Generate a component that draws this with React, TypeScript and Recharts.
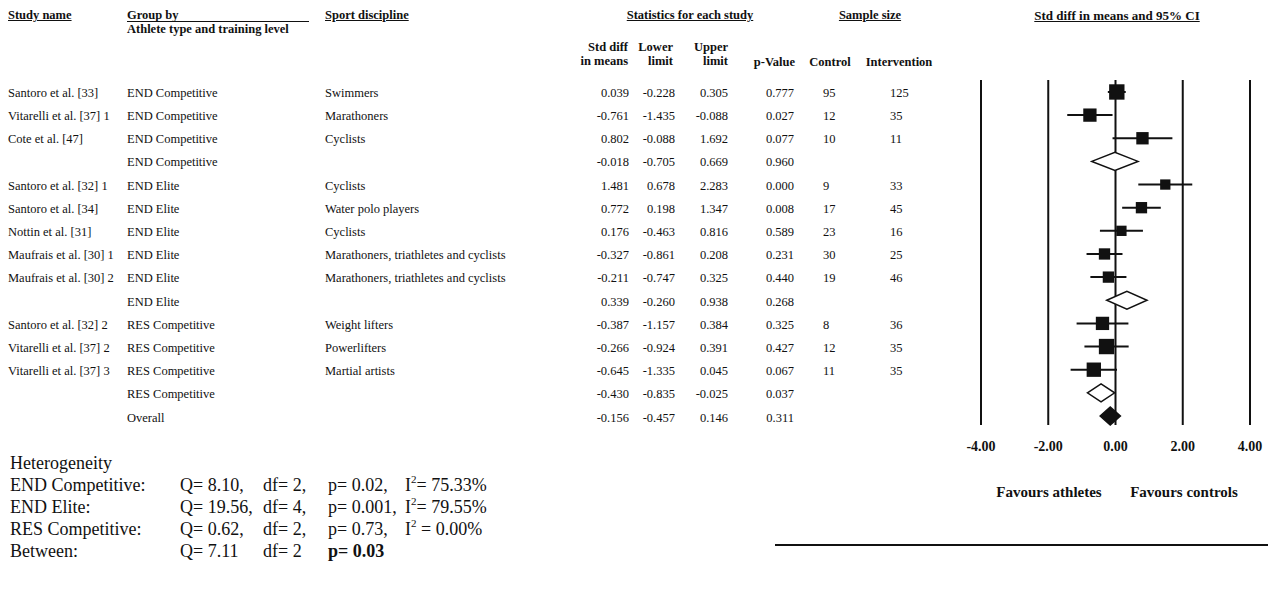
import React from 'react';
import { ScatterChart, Scatter, XAxis, YAxis, ReferenceLine, ErrorBar } from 'recharts';

// one entry per row of the forest plot, top to bottom; empty study name = subgroup / overall summary
const studyNames = [
  'Santoro et al. [33]',
  'Vitarelli et al. [37] 1',
  'Cote et al. [47]',
  '',
  'Santoro et al. [32] 1',
  'Santoro et al. [34]',
  'Nottin et al. [31]',
  'Maufrais et al. [30] 1',
  'Maufrais et al. [30] 2',
  '',
  'Santoro et al. [32] 2',
  'Vitarelli et al. [37] 2',
  'Vitarelli et al. [37] 3',
  '',
  '',
];
const groupNames = [
  'END Competitive', 'END Competitive', 'END Competitive', 'END Competitive',
  'END Elite', 'END Elite', 'END Elite', 'END Elite', 'END Elite', 'END Elite',
  'RES Competitive', 'RES Competitive', 'RES Competitive', 'RES Competitive',
  'Overall',
];
const sports = [
  'Swimmers', 'Marathoners', 'Cyclists', '',
  'Cyclists', 'Water polo players', 'Cyclists',
  'Marathoners, triathletes and cyclists', 'Marathoners, triathletes and cyclists', '',
  'Weight lifters', 'Powerlifters', 'Martial artists', '', '',
];
const stdDiff = [0.039, -0.761, 0.802, -0.018, 1.481, 0.772, 0.176, -0.327, -0.211, 0.339, -0.387, -0.266, -0.645, -0.43, -0.156];
const lowerLimit = [-0.228, -1.435, -0.088, -0.705, 0.678, 0.198, -0.463, -0.861, -0.747, -0.26, -1.157, -0.924, -1.335, -0.835, -0.457];
const upperLimit = [0.305, -0.088, 1.692, 0.669, 2.283, 1.347, 0.816, 0.208, 0.325, 0.938, 0.384, 0.391, 0.045, -0.025, 0.146];
const pValues = [0.777, 0.027, 0.077, 0.96, 0.0, 0.008, 0.589, 0.231, 0.44, 0.268, 0.325, 0.427, 0.067, 0.037, 0.311];
const controlN = [95, 12, 10, null, 9, 17, 23, 30, 19, null, 8, 12, 11, null, null];
const interventionN = [125, 35, 11, null, 33, 45, 16, 25, 46, null, 36, 35, 35, null, null];
// relative study weights (%), estimated from the square sizes
const weights = [10.7, 8, 6.9, 0, 4.8, 5.8, 4.8, 5.8, 5.8, 0, 8, 10.7, 9.3, 0, 0];
const xTicks = [-4, -2, 0, 2, 4];

const hetLabels = ['END Competitive:', 'END Elite:', 'RES Competitive:', 'Between:'];
const hetQ = ['8.10,', '19.56,', '0.62,', '7.11'];
const hetDf = ['2,', '4,', '2,', '2'];
const hetP = ['0.02,', '0.001,', '0.73,', '0.03'];
const hetI2 = ['= 75.33%', '= 79.55%', ' = 0.00%', ''];

const W = 1268;
const H = 590;
const FONT = '"Liberation Serif", "Times New Roman", serif';
const INK = '#111';
const ROW0 = 92;
const ROW_H = 23.2;
const PLOT_TOP = 80;
const PLOT_BOTTOM = 425;
const CHART_LEFT = 940;
const X_AXIS_H = 30;

const rowY = (i: number) => ROW0 + ROW_H * i;

const studyData = stdDiff
  .map((v, i) => ({ x: v, y: i, ci: [v - lowerLimit[i], upperLimit[i] - v], w: weights[i], summary: studyNames[i] === '' }))
  .filter((d) => !d.summary);

const diamondH = 0.39;
const diamonds = stdDiff
  .map((v, i) => ({ i, v }))
  .filter(({ i }) => studyNames[i] === '')
  .map(({ i, v }) => ({
    row: i,
    filled: groupNames[i] === 'Overall',
    pts: [
      { x: lowerLimit[i], y: i },
      { x: v, y: i - diamondH },
      { x: upperLimit[i], y: i },
      { x: v, y: i + diamondH },
    ],
  }));

const Square = (props: any) => {
  const { cx, cy, payload } = props;
  const s = 4.7 * Math.sqrt(payload.w);
  return <rect x={cx - s / 2} y={cy - s / 2} width={s} height={s} fill={INK} />;
};

const diamondLine = (fill: string) => (p: any) => {
  if (!p.points) return <g />;
  return (
    <polygon
      points={p.points.map((q: any) => `${q.x},${q.y}`).join(' ')}
      fill={fill}
      stroke={INK}
      strokeWidth={1.5}
    />
  );
};

type TProps = {
  x: number;
  y: number;
  children: React.ReactNode;
  align?: 'left' | 'right' | 'center';
  size?: number;
  bold?: boolean;
  underline?: boolean;
};

const T = ({ x, y, children, align = 'left', size = 12.5, bold = false, underline = false }: TProps) => {
  const style: React.CSSProperties = {
    position: 'absolute',
    top: y - size / 2,
    lineHeight: 1,
    fontSize: size,
    whiteSpace: 'nowrap',
    fontWeight: bold ? 700 : 400,
    textDecoration: underline ? 'underline' : 'none',
  };
  if (align === 'left') style.left = x;
  else if (align === 'right') style.right = W - x;
  else {
    style.left = x;
    style.transform = 'translateX(-50%)';
  }
  return <div style={style}>{children}</div>;
};

const fmt = (v: number) => v.toFixed(3);
const I2 = () => (
  <span>
    I<sup style={{ fontSize: 11, verticalAlign: 'top', position: 'relative', top: -2 }}>2</sup>
  </span>
);

export default function App() {
  const yMin = -(ROW0 - PLOT_TOP) / ROW_H;
  const yMax = (PLOT_BOTTOM - ROW0) / ROW_H;

  return (
    <div style={{ position: 'relative', width: W, height: H, fontFamily: FONT, color: INK, background: '#fff', overflow: 'hidden' }}>
      <style>{'body{margin:0}'}</style>

      {/* column headers */}
      <T x={8} y={15} bold underline>Study name</T>
      <T x={127} y={15} bold>Group by</T>
      <div style={{ position: 'absolute', left: 127, top: 21, width: 182, height: 1, background: INK }} />
      <T x={127} y={29} bold>Athlete type and training level</T>
      <T x={325} y={15} bold underline>Sport discipline</T>
      <T x={690} y={15} bold underline align="center">Statistics for each study</T>
      <T x={870} y={15} bold underline align="center">Sample size</T>
      <T x={1117} y={15} size={13} bold underline align="center">Std diff in means and 95% CI</T>
      <T x={628} y={47} bold align="right">Std diff</T>
      <T x={628} y={61} bold align="right">in means</T>
      <T x={673} y={47} bold align="right">Lower</T>
      <T x={673} y={61} bold align="right">limit</T>
      <T x={728} y={47} bold align="right">Upper</T>
      <T x={728} y={61} bold align="right">limit</T>
      <T x={795} y={62} bold align="right">p-Value</T>
      <T x={830} y={62} bold align="center">Control</T>
      <T x={899} y={62} bold align="center">Intervention</T>

      {/* table rows */}
      {studyNames.map((name, i) => {
        const y = rowY(i) + 1;
        return (
          <React.Fragment key={i}>
            {name && <T x={8} y={y}>{name}</T>}
            <T x={127} y={y}>{groupNames[i]}</T>
            {sports[i] && <T x={325} y={y}>{sports[i]}</T>}
            <T x={629} y={y} align="right">{fmt(stdDiff[i])}</T>
            <T x={675} y={y} align="right">{fmt(lowerLimit[i])}</T>
            <T x={728} y={y} align="right">{fmt(upperLimit[i])}</T>
            <T x={794} y={y} align="right">{fmt(pValues[i])}</T>
            {controlN[i] != null && <T x={823} y={y}>{controlN[i]}</T>}
            {interventionN[i] != null && <T x={890} y={y}>{interventionN[i]}</T>}
          </React.Fragment>
        );
      })}

      {/* forest plot */}
      <div style={{ position: 'absolute', left: CHART_LEFT, top: 0 }}>
        <ScatterChart
          width={W - CHART_LEFT}
          height={H}
          margin={{ top: PLOT_TOP, right: 18, left: 41, bottom: H - PLOT_BOTTOM - X_AXIS_H }}
        >
          <XAxis
            type="number"
            dataKey="x"
            domain={[-4, 4]}
            ticks={xTicks}
            tickFormatter={(v: number) => v.toFixed(2)}
            axisLine={false}
            tickLine={false}
            tickMargin={10}
            height={X_AXIS_H}
            tick={{ fontSize: 14, fontWeight: 700, fill: INK, fontFamily: FONT }}
          />
          <YAxis type="number" dataKey="y" domain={[yMin, yMax]} reversed hide />
          {xTicks.map((t) => (
            <ReferenceLine key={t} x={t} stroke={INK} strokeWidth={2} />
          ))}
          <Scatter data={studyData} shape={Square} isAnimationActive={false}>
            <ErrorBar dataKey="ci" direction="x" width={0} stroke={INK} strokeWidth={2} />
          </Scatter>
          {diamonds.map((d) => (
            <Scatter
              key={d.row}
              data={d.pts}
              shape={() => <g />}
              line={diamondLine(d.filled ? INK : '#fff')}
              isAnimationActive={false}
            />
          ))}
        </ScatterChart>
      </div>

      <T x={1049} y={492} size={15} bold align="center">Favours athletes</T>
      <T x={1184} y={492} size={15} bold align="center">Favours controls</T>
      <div style={{ position: 'absolute', left: 775, top: 544, width: W - 775, height: 2, background: INK }} />

      {/* heterogeneity */}
      <T x={10} y={463} size={18}>Heterogeneity</T>
      {hetLabels.map((lab, i) => {
        const y = 485 + 22 * i;
        const last = i === hetLabels.length - 1;
        return (
          <React.Fragment key={lab}>
            <T x={10} y={y} size={18}>{lab}</T>
            <T x={180} y={y} size={18}>Q= {hetQ[i]}</T>
            <T x={263} y={y} size={18}>df= {hetDf[i]}</T>
            <T x={328} y={y} size={18} bold={last}>p= {hetP[i]}</T>
            {hetI2[i] && (
              <T x={405} y={y} size={18}>
                <I2 />
                {hetI2[i]}
              </T>
            )}
          </React.Fragment>
        );
      })}
    </div>
  );
}
